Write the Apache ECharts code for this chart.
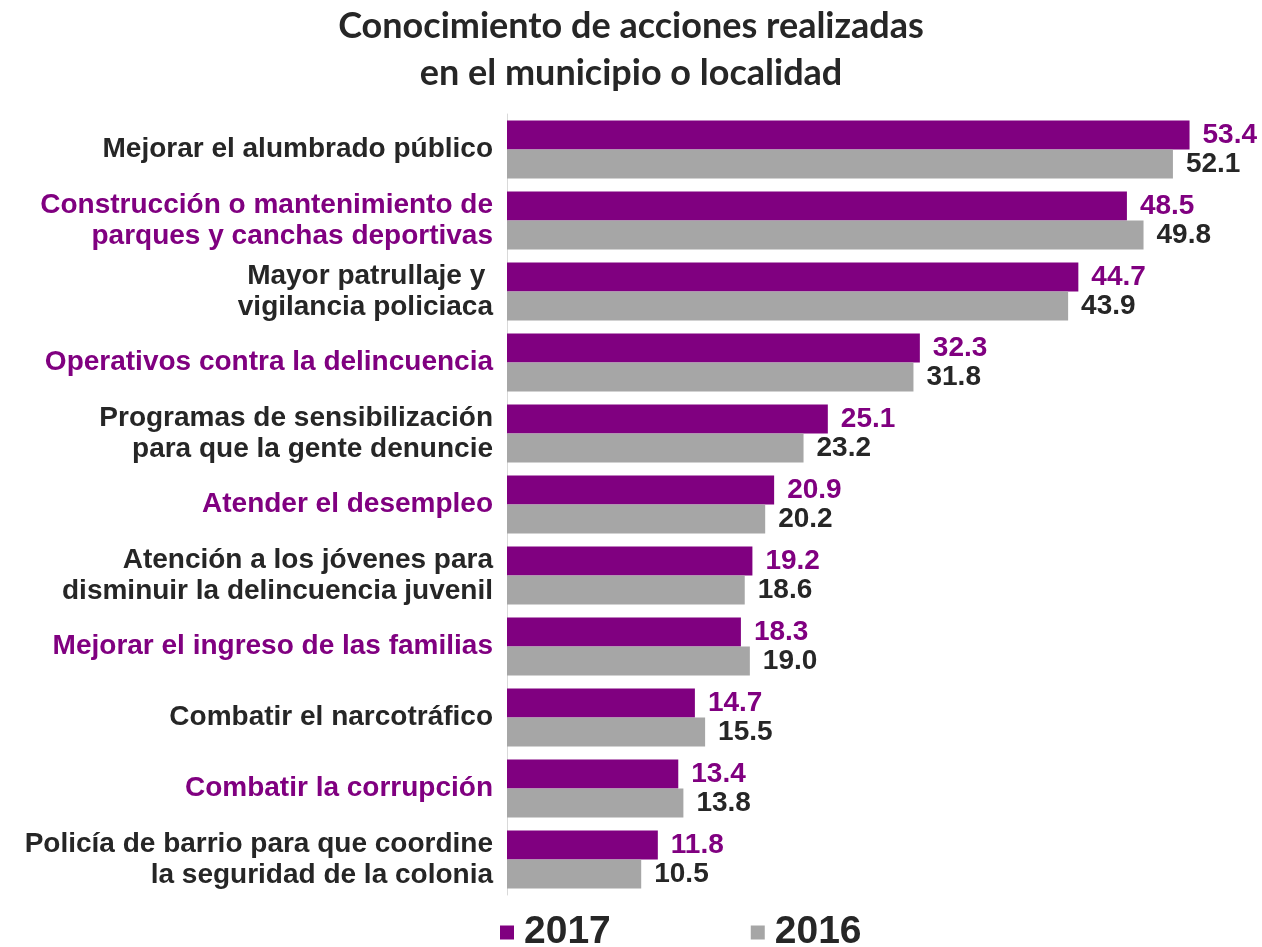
<!DOCTYPE html>
<html>
<head>
<meta charset="utf-8">
<script src="https://cdn.jsdelivr.net/npm/echarts@6/dist/echarts.min.js"></script>
<style>
  html, body { margin: 0; padding: 0; background: #ffffff; }
  #chart { width: 1262px; height: 947px; }
</style>
</head>
<body>
<div id="chart"></div>
<script>
// Actions known to have been carried out in the municipality or locality (%)
const categories = [
  'Mejorar el alumbrado público',
  'Construcción o mantenimiento de\nparques y canchas deportivas',
  'Mayor patrullaje y \nvigilancia policiaca',
  'Operativos contra la delincuencia',
  'Programas de sensibilización\npara que la gente denuncie',
  'Atender el desempleo',
  'Atención a los jóvenes para\ndisminuir la delincuencia juvenil',
  'Mejorar el ingreso de las familias',
  'Combatir el narcotráfico',
  'Combatir la corrupción',
  'Policía de barrio para que coordine\nla seguridad de la colonia'
];
const values2017 = [53.4, 48.5, 44.7, 32.3, 25.1, 20.9, 19.2, 18.3, 14.7, 13.4, 11.8];
const values2016 = [52.1, 49.8, 43.9, 31.8, 23.2, 20.2, 18.6, 19.0, 15.5, 13.8, 10.5];
const seriesNames = ['2017', '2016'];

const PURPLE = '#800080';
const GREY = '#a6a6a6';
const DARK = '#262626';
const SANS = '"Liberation Sans", Arial, sans-serif';

const chart = echarts.init(document.getElementById('chart'), null, { renderer: 'canvas' });

chart.setOption({
  backgroundColor: '#ffffff',
  animation: false,
  title: {
    text: 'Conocimiento de acciones realizadas\nen el municipio o localidad',
    left: 'center',
    top: -2,
    textStyle: {
      fontFamily: 'Lato, "Open Sans", sans-serif',
      fontWeight: 'bold',
      fontSize: 36,
      lineHeight: 47,
      color: DARK
    }
  },
  legend: {
    left: 495,
    top: 908,
    itemGap: 140,
    itemWidth: 14,
    itemHeight: 14,
    icon: 'rect',
    data: seriesNames,
    textStyle: {
      fontFamily: SANS,
      fontWeight: 'bold',
      fontSize: 39,
      color: DARK,
      padding: [0, 0, 0, 5]
    }
  },
  grid: {
    left: 507,
    right: 52,
    top: 114,
    height: 781,
    containLabel: false
  },
  xAxis: {
    type: 'value',
    min: 0,
    max: 55,
    show: false
  },
  yAxis: {
    type: 'category',
    inverse: true,
    data: categories,
    axisLine: { show: true, lineStyle: { color: '#d9d9d9', width: 1 } },
    axisTick: { show: false },
    axisLabel: {
      margin: 14,
      align: 'right',
      fontFamily: SANS,
      fontWeight: 'bold',
      fontSize: 28,
      lineHeight: 31,
      color: function (value, index) {
        return index % 2 === 1 ? PURPLE : DARK;
      }
    }
  },
  series: [
    {
      name: seriesNames[0],
      type: 'bar',
      data: values2017,
      barGap: '0%',
      barCategoryGap: '18%',
      itemStyle: { color: PURPLE },
      label: {
        show: true,
        position: 'right',
        distance: 13,
        fontFamily: SANS,
        fontWeight: 'bold',
        fontSize: 28,
        color: PURPLE,
        formatter: p => p.value.toFixed(1)
      }
    },
    {
      name: seriesNames[1],
      type: 'bar',
      data: values2016,
      barGap: '0%',
      barCategoryGap: '18%',
      itemStyle: { color: GREY },
      label: {
        show: true,
        position: 'right',
        distance: 13,
        fontFamily: SANS,
        fontWeight: 'bold',
        fontSize: 28,
        color: DARK,
        formatter: p => p.value.toFixed(1)
      }
    }
  ]
});
</script>
</body>
</html>
